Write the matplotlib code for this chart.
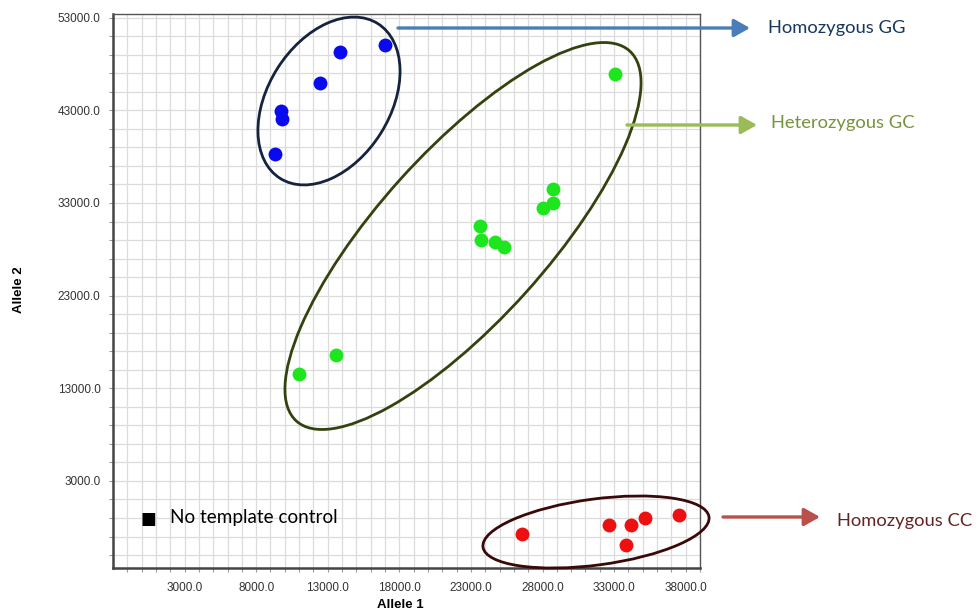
import matplotlib
matplotlib.use("Agg")
import matplotlib.pyplot as plt
from matplotlib.patches import Ellipse, FancyArrowPatch, ArrowStyle
from matplotlib.transforms import Affine2D

# ---- data ----
gg_x = [17000, 13850, 12450, 9700, 9800, 9350]
gg_y = [50100, 49350, 46000, 42900, 42050, 38300]

gc_x = [33050, 28700, 28750, 28050, 23600, 23700, 24650, 25300, 13600, 11000]
gc_y = [46950, 34500, 32950, 32450, 30550, 29050, 28800, 28250, 16550, 14500]

cc_x = [26600, 32650, 34200, 33850, 35150, 37550]
cc_y = [-2700, -1800, -1800, -3950, -1050, -650]

x_ticks = [3000, 8000, 13000, 18000, 23000, 28000, 33000, 38000]
y_ticks = [3000, 13000, 23000, 33000, 43000, 53000]

group_labels = ["Homozygous GG", "Heterozygous GC", "Homozygous CC"]
ntc_label = "No template control"

# ---- figure ----
W, H = 976, 612
fig = plt.figure(figsize=(W / 100, H / 100), dpi=100)
ax = fig.add_axes([113 / W, 1 - 568 / H, 587 / W, 554 / H])
pix = Affine2D().scale(1 / W, 1 / H) + fig.transFigure  # pixel coords, y up


def P(x, y):
    return (x, H - y)


ax.scatter(gg_x, gg_y, s=100, color="#0a0af0", zorder=3, linewidths=0)
ax.scatter(gc_x, gc_y, s=100, color="#1ee61e", zorder=3, linewidths=0)
ax.scatter(cc_x, cc_y, s=100, color="#ee1010", zorder=3, linewidths=0)

ax.set_xlim(-2000, 39000)
ax.set_ylim(-6400, 53400)
ax.set_xticks(x_ticks)
ax.set_xticklabels([f"{v:.1f}" for v in x_ticks])
ax.set_yticks(y_ticks)
ax.set_yticklabels([f"{v:.1f}" for v in y_ticks])
ax.set_xticks(range(-1000, 39001, 1000), minor=True)
ax.set_yticks(range(-5000, 53001, 2000), minor=True)
ax.grid(which="both", color="#dcdcdc", lw=0.9, zorder=0)
ax.set_axisbelow(True)
ax.tick_params(which="both", direction="out", length=3, width=0.8, color="#999999")
ax.tick_params(which="major", labelsize=8.5, labelcolor="#333333")
ax.tick_params(axis="x", which="major", pad=7)
ax.tick_params(axis="y", which="major", pad=6)
for lab in ax.get_xticklabels() + ax.get_yticklabels():
    lab.set_family("Liberation Sans")

for s in ["left", "bottom"]:
    ax.spines[s].set_linewidth(1.8)
    ax.spines[s].set_color("#444444")
for s in ["top", "right"]:
    ax.spines[s].set_linewidth(1.0)
    ax.spines[s].set_color("#555555")

ax.set_xlabel("Allele 1", fontsize=9.5, fontweight="bold", family="Liberation Sans")
ax.set_ylabel("Allele 2", fontsize=9.5, fontweight="bold", family="Liberation Sans")
ax.xaxis.set_label_coords((400 - 113) / 587, (568 - 599) / 554)
ax.yaxis.set_label_coords((25 - 113) / 587, (568 - 290) / 554)

# ---- cluster ellipses (annotation shapes, in pixel space) ----
ells = [
    (P(329, 101), 183, 122, 57.7, "#15233f"),
    (P(463, 236), 498, 169, 48.0, "#34420f"),
    (P(596, 532), 228, 66, 7.6, "#3a0808"),
]
for c, w, h, ang, col in ells:
    fig.add_artist(Ellipse(c, w, h, angle=ang, transform=pix, fill=False,
                           ec=col, lw=2.0, zorder=5))

# ---- arrows and labels ----
style = ArrowStyle("-|>", head_length=0.8, head_width=0.45)
arrows = [
    (P(398, 28), P(750, 28), "#4a7ebb"),
    (P(627, 125), P(757, 125), "#9bbb59"),
    (P(723, 517), P(820, 517), "#b9504a"),
]
for a, b, col in arrows:
    fig.add_artist(FancyArrowPatch(a, b, transform=pix, arrowstyle=style,
                                   mutation_scale=12, lw=2.4, color=col,
                                   shrinkA=0, shrinkB=0, zorder=6))

txt_pos = [(P(768, 28), "#17375e"), (P(771, 123), "#77933c"), (P(837, 521), "#632523")]
for (p, col), lab in zip(txt_pos, group_labels):
    fig.text(p[0], p[1], lab, transform=pix, fontsize=13.2, color=col,
             family="Lato", va="center", ha="left")

fig.text(*P(148, 519), "\u25A0", transform=pix, fontsize=12, color="black",
         ha="center", va="center", family="DejaVu Sans")
fig.text(*P(170, 517), ntc_label, transform=pix, fontsize=13.6, color="black",
         ha="left", va="center", family="Lato")

fig.savefig("out.png", dpi=100)
